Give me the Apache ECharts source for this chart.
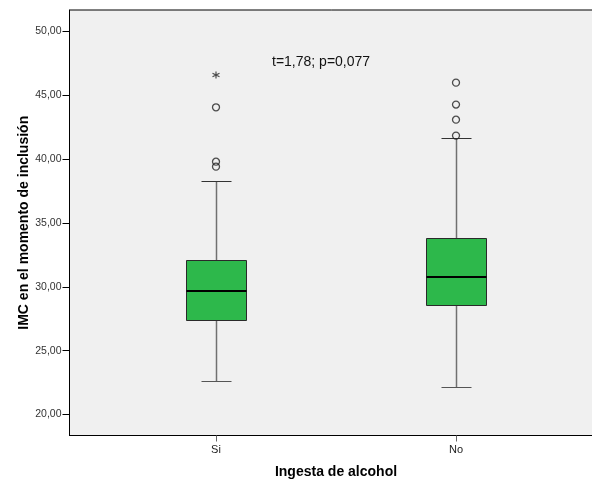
<!DOCTYPE html>
<html>
<head>
<meta charset="utf-8">
<script src="https://cdn.jsdelivr.net/npm/echarts@6/dist/echarts.min.js"></script>
<style>
  html, body { margin: 0; padding: 0; background: #fff; }
  #chart { width: 592px; height: 483px; }
</style>
</head>
<body>
<div id="chart"></div>
<script>
// Box summaries for IMC by alcohol intake group
const categories = ['Si', 'No'];
const lowWhisker = [22.66, 22.19];
const q1 = [27.42, 28.57];
const median = [29.66, 30.81];
const q3 = [32.09, 33.84];
const highWhisker = [38.28, 41.67];
// Outliers (circles) and extreme values (asterisk)
const outliersSi = [44.07, 39.81, 39.42];
const outliersNo = [46.0, 44.28, 43.1, 41.85];
const extremesSi = [46.6];
const yTicks = [20, 25, 30, 35, 40, 45, 50];
const annotation = 't=1,78; p=0,077';

const FONT = '"Liberation Sans", Arial, sans-serif';
const catPos = categories.map((c, i) => i + 1);

const boxData = categories.map((c, i) => [catPos[i], lowWhisker[i], q1[i], median[i], q3[i], highWhisker[i]]);
const outlierData = [
  ...outliersSi.map(v => [catPos[0], v]),
  ...outliersNo.map(v => [catPos[1], v])
];
const extremeData = extremesSi.map(v => [catPos[0], v]);

const fmt = v => v.toFixed(2).replace('.', ',');

function renderBox(params, api) {
  const x = api.value(0);
  const pLow = api.coord([x, api.value(1)]);
  const pQ1 = api.coord([x, api.value(2)]);
  const pMed = api.coord([x, api.value(3)]);
  const pQ3 = api.coord([x, api.value(4)]);
  const pHigh = api.coord([x, api.value(5)]);
  const cx = Math.round(pMed[0]) + 0.5;
  const halfBox = 30;
  const halfCap = 15;
  const r = v => Math.round(v) + 0.5;
  return {
    type: 'group',
    children: [
      { type: 'line', shape: { x1: cx, y1: r(pQ3[1]), x2: cx, y2: r(pHigh[1]) },
        style: { stroke: '#707070', lineWidth: 1.5 } },
      { type: 'line', shape: { x1: cx, y1: r(pQ1[1]), x2: cx, y2: r(pLow[1]) },
        style: { stroke: '#707070', lineWidth: 1.5 } },
      { type: 'line', shape: { x1: cx - halfCap, y1: r(pHigh[1]), x2: cx + halfCap, y2: r(pHigh[1]) },
        style: { stroke: '#333', lineWidth: 1 } },
      { type: 'line', shape: { x1: cx - halfCap, y1: r(pLow[1]), x2: cx + halfCap, y2: r(pLow[1]) },
        style: { stroke: '#555', lineWidth: 1 } },
      { type: 'rect', shape: { x: cx - halfBox, y: r(pQ3[1]), width: halfBox * 2, height: r(pQ1[1]) - r(pQ3[1]) },
        style: { fill: '#2db84b', stroke: '#2a2a2a', lineWidth: 1 } },
      { type: 'line', shape: { x1: cx - halfBox, y1: Math.round(pMed[1]), x2: cx + halfBox, y2: Math.round(pMed[1]) },
        style: { stroke: '#000', lineWidth: 2 } }
    ]
  };
}

const chart = echarts.init(document.getElementById('chart'), null, { renderer: 'canvas' });
chart.setOption({
  animation: false,
  backgroundColor: '#ffffff',
  grid: {
    left: 69.5, top: 10, width: 533, height: 425.5,
    outerBoundsMode: 'none',
    containLabel: false,
    show: true, backgroundColor: '#f0f0f0', borderColor: '#000', borderWidth: 1
  },
  xAxis: {
    type: 'value',
    min: 0.3896, max: 2.6104,
    name: 'Ingesta de alcohol',
    nameLocation: 'middle',
    nameGap: 30,
    nameMoveOverlap: false,
    nameTextStyle: { fontFamily: FONT, fontSize: 14, fontWeight: 'bold', color: '#000' },
    axisLine: { show: true, lineStyle: { color: '#000', width: 1 } },
    axisTick: { show: true, length: 6, customValues: catPos, lineStyle: { color: '#666', width: 1 } },
    axisLabel: {
      customValues: catPos, margin: 9, fontFamily: FONT, fontSize: 11, color: '#222',
      formatter: v => categories[Math.round(v) - 1] || ''
    },
    splitLine: { show: false }
  },
  yAxis: {
    type: 'value',
    min: 18.36, max: 51.69,
    name: 'IMC en el momento de inclusión',
    nameLocation: 'middle',
    nameGap: 38,
    nameMoveOverlap: false,
    nameTextStyle: { fontFamily: FONT, fontSize: 14, fontWeight: 'bold', color: '#000' },
    axisLine: { show: true, lineStyle: { color: '#000', width: 1 } },
    axisTick: { show: true, length: 7, customValues: yTicks, lineStyle: { color: '#000', width: 1 } },
    axisLabel: {
      customValues: yTicks, margin: 8, fontFamily: FONT, fontSize: 10.5, color: '#333',
      formatter: v => fmt(v)
    },
    splitLine: { show: false }
  },
  series: [
    {
      type: 'custom',
      renderItem: renderBox,
      encode: { x: 0, y: [1, 2, 3, 4, 5] },
      data: boxData,
      z: 3
    },
    {
      type: 'scatter',
      data: outlierData,
      symbol: 'circle',
      symbolSize: 7,
      itemStyle: { color: 'rgba(0,0,0,0)', borderColor: '#222', borderWidth: 1.3 },
      z: 4
    },
    {
      type: 'scatter',
      data: extremeData,
      symbol: 'path://M5,0 L5,10 M0.67,2.5 L9.33,7.5 M0.67,7.5 L9.33,2.5',
      symbolSize: 7,
      itemStyle: { color: 'rgba(0,0,0,0)', borderColor: '#222', borderWidth: 1.2 },
      z: 4
    }
  ],
  graphic: [
    {
      type: 'text', left: 272, top: 55.5,
      style: { text: annotation, fontFamily: FONT, fontSize: 14, fill: '#111' }
    }
  ]
});
</script>
</body>
</html>
